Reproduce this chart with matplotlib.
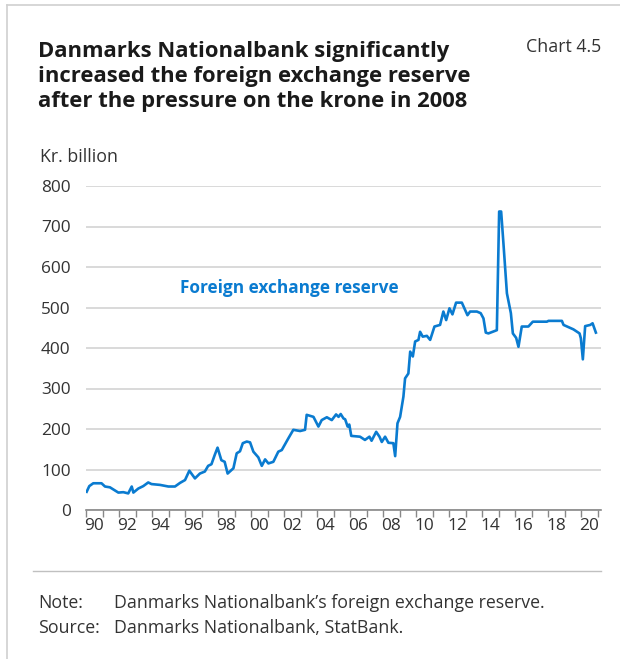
import matplotlib.pyplot as plt
from matplotlib.lines import Line2D

# Reserve, kr. billion
years = [1990.04, 1990.2, 1990.44, 1990.94, 1991.15, 1991.45, 1991.96, 1992.26, 1992.56,
         1992.77, 1992.87, 1993.17, 1993.47, 1993.77, 1993.97, 1994.48, 1994.99, 1995.39,
         1995.7, 1996.0, 1996.26, 1996.6, 1996.9, 1997.2, 1997.4, 1997.6, 1997.8, 1997.97,
         1998.2, 1998.4, 1998.58, 1998.93, 1999.13, 1999.33, 1999.5, 1999.74, 1999.94,
         2000.14, 2000.44, 2000.65, 2000.85, 2001.05, 2001.35, 2001.65, 2001.86, 2002.26,
         2002.56, 2002.97, 2003.27, 2003.37, 2003.78, 2004.08, 2004.28, 2004.59, 2004.89,
         2005.15, 2005.3, 2005.43, 2005.6, 2005.7, 2005.85, 2005.95, 2006.07, 2006.6, 2006.9,
         2007.17, 2007.3, 2007.58, 2007.78, 2007.92, 2008.12, 2008.32, 2008.62, 2008.73,
         2008.87, 2009.03, 2009.23, 2009.33, 2009.53, 2009.64, 2009.8, 2009.94, 2010.14,
         2010.24, 2010.4, 2010.65, 2010.85, 2011.11, 2011.45, 2011.65, 2011.82, 2012.02,
         2012.2, 2012.42, 2012.77, 2013.11, 2013.27, 2013.68, 2013.91, 2014.08, 2014.22,
         2014.38, 2014.89, 2015.03, 2015.15, 2015.29, 2015.5, 2015.74, 2015.86, 2016.06,
         2016.2, 2016.4, 2016.8, 2017.07, 2017.92, 2018.02, 2018.83, 2018.93, 2019.53,
         2019.9, 2019.98, 2020.1, 2020.24, 2020.55, 2020.69, 2020.89]
reserve = [45, 59, 66, 66, 58, 56, 43, 44, 41,
           58, 43, 53, 59, 68, 64, 62, 58, 58,
           67, 74, 97, 78, 90, 95, 109, 113, 136, 154,
           123, 119, 90, 103, 140, 145, 165, 169, 167,
           144, 130, 109, 125, 115, 119, 144, 148, 177,
           198, 195, 198, 235, 230, 206, 222, 229, 222,
           236, 230, 237, 226, 224, 206, 211, 183, 181, 173,
           181, 171, 193, 181, 168, 181, 166, 165, 133,
           214, 230, 280, 325, 337, 391, 379, 416, 420,
           440, 428, 430, 420, 453, 457, 490, 469, 498,
           483, 512, 512, 481, 490, 490, 486, 473, 438,
           436, 444, 737, 737, 658, 535, 486, 436, 425,
           403, 453, 453, 465, 465, 467, 467, 457, 446,
           436, 424, 372, 454, 457, 461, 438]

tick_years = list(range(1990, 2022))
label_pos = [y + 0.5 for y in range(1990, 2021, 2)]
label_txt = ["90", "92", "94", "96", "98", "00", "02", "04", "06", "08",
             "10", "12", "14", "16", "18", "20"]
y_ticks = [0, 100, 200, 300, 400, 500, 600, 700, 800]

title_lines = ["Danmarks Nationalbank significantly",
               "increased the foreign exchange reserve",
               "after the pressure on the krone in 2008"]

plt.rcParams['font.family'] = ['Open Sans', 'DejaVu Sans']

blue = '#0a7bd0'
txt = '#333333'
fs = 12.8
tfs = 12.4


def fy(px):
    # pixel row -> figure fraction
    return 1 - px / 659


fig = plt.figure(figsize=(6.2, 6.59), dpi=100)
ax = fig.add_axes([86 / 620, fy(510), (601 - 86) / 620, (510 - 186) / 659])

ax.plot(years, reserve, color=blue, lw=1.9, solid_joinstyle='round', zorder=3)

ax.set_xlim(1990, 2021.2)
ax.set_ylim(0, 800)
ax.set_yticks(y_ticks)
ax.grid(axis='y', color='#d0d0d0', lw=1.1)
ax.set_axisbelow(True)

ax.set_xticks(tick_years)
ax.set_xticklabels([])
ax.set_xticks(label_pos, minor=True)
ax.set_xticklabels(label_txt, minor=True)
ax.tick_params(axis='x', which='major', length=5, width=1, color='#888888', direction='out')
ax.tick_params(axis='x', which='minor', length=0, pad=6, labelsize=tfs, labelcolor=txt)
ax.tick_params(axis='y', length=0, pad=11, labelsize=tfs, labelcolor=txt)

for s in ['top', 'right', 'left']:
    ax.spines[s].set_visible(False)
ax.spines['bottom'].set_color('#888888')
ax.spines['bottom'].set_linewidth(1.2)

ax.text(1995.7, 548, "Foreign exchange reserve", color=blue, fontsize=12.4,
        fontweight='bold', va='center', ha='left')

# titles and notes
for i, line in enumerate(title_lines):
    fig.text(38 / 620, fy(57 + 25 * i), line, fontsize=15.8, fontweight='bold',
             color='#1a1a1a', va='baseline', ha='left')
fig.text(601 / 620, fy(52), "Chart 4.5", fontsize=fs, color=txt, va='baseline', ha='right')
fig.text(40 / 620, fy(162), "Kr. billion", fontsize=fs, color=txt, va='baseline')

fig.add_artist(Line2D([33 / 620, 601 / 620], [fy(571)] * 2, color='#c0c0c0', lw=1))
fig.text(38 / 620, fy(608), "Note:", fontsize=fs, color=txt, va='baseline')
fig.text(114 / 620, fy(608), "Danmarks Nationalbank\u2019s foreign exchange reserve.",
         fontsize=fs, color=txt, va='baseline')
fig.text(38 / 620, fy(633), "Source:", fontsize=fs, color=txt, va='baseline')
fig.text(114 / 620, fy(633), "Danmarks Nationalbank, StatBank.",
         fontsize=fs, color=txt, va='baseline')

# frame edges
fig.add_artist(Line2D([7 / 620, 7 / 620], [0, fy(5)], color='#d0d0d0', lw=1.2))
fig.add_artist(Line2D([7 / 620, 1], [fy(5)] * 2, color='#d0d0d0', lw=1.2))

fig.savefig('out.png', dpi=100)
